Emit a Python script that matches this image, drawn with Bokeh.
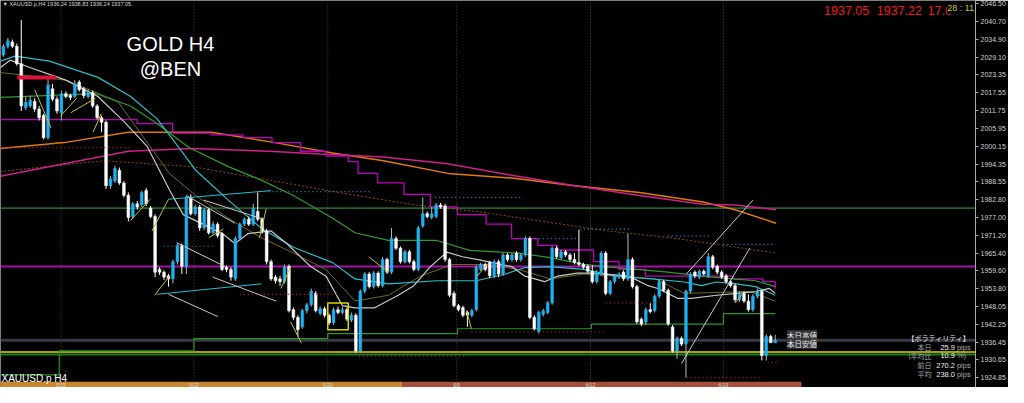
from bokeh.plotting import figure
from bokeh.models import Range1d, FixedTicker, PrintfTickFormatter, Span, Label, ColumnDataSource
from bokeh.core.properties import value
from bokeh.embed import file_html
from bokeh.resources import INLINE

# ---------------- data (XAUUSD.p H4) ----------------
opens = [2029.8, 2032.6, 2034.0, 2032.6, 2026.9, 2012.6, 2013.2, 2014.7, 2012.2, 2010.1,
         2002.9, 2018.8, 2015.4, 2011.0, 2017.2, 2016.6, 2016.3, 2021.0, 2018.8, 2016.3,
         2017.6, 2013.2, 2009.4, 2007.9, 1987.3, 1988.8, 1992.3, 1988.2, 1984.2, 1977.3,
         1981.4, 1981.0, 1985.7, 1980.0, 1977.3, 1960.1, 1959.2, 1958.0, 1957.0, 1962.6,
         1967.9, 1961.1, 1983.5, 1978.2, 1980.4, 1973.6, 1979.5, 1972.0, 1974.8, 1971.7,
         1960.8, 1960.1, 1957.0, 1970.1, 1974.8, 1976.4, 1974.8, 1978.9, 1976.4, 1972.6,
         1962.6, 1957.6, 1957.0, 1956.1, 1961.1, 1947.0, 1944.5, 1941.4, 1946.7, 1948.6,
         1952.3, 1945.8, 1947.3, 1945.2, 1942.7, 1947.0, 1946.1, 1947.0, 1943.6, 1945.2,
         1933.6, 1953.0, 1958.6, 1954.5, 1958.9, 1954.8, 1963.3, 1959.2, 1970.1, 1967.0,
         1962.6, 1965.8, 1962.6, 1960.1, 1974.2, 1978.2, 1977.0, 1977.3, 1981.0, 1980.7,
         1963.3, 1952.3, 1948.3, 1947.7, 1946.1, 1945.2, 1947.0, 1960.1, 1961.7, 1962.3,
         1958.0, 1962.6, 1958.6, 1964.8, 1963.3, 1965.4, 1963.3, 1964.8, 1970.1, 1944.5,
         1939.9, 1945.5, 1946.1, 1949.2, 1967.0, 1963.9, 1965.8, 1964.8, 1963.3, 1962.3,
         1961.7, 1961.1, 1959.5, 1956.1, 1958.6, 1965.4, 1952.3, 1956.1, 1957.6, 1959.2,
         1957.0, 1963.3, 1954.5, 1943.9, 1943.0, 1947.0, 1946.7, 1951.4, 1956.1, 1953.3,
         1941.4, 1933.6, 1937.7, 1935.8, 1953.0, 1959.2, 1957.6, 1959.5, 1958.0, 1964.2,
         1961.1, 1959.2, 1958.0, 1956.1, 1954.8, 1950.2, 1952.3, 1949.8, 1947.0, 1951.4,
         1953.0, 1932.1, 1938.3, 1936.24]
highs = [2033.3, 2035.3, 2034.8, 2033.5, 2041.2, 2016.3, 2016.6, 2015.7, 2013.2, 2010.7,
         2022.5, 2020.4, 2016.3, 2018.2, 2017.9, 2017.2, 2021.6, 2021.6, 2019.4, 2018.8,
         2018.2, 2013.8, 2010.1, 2008.5, 1990.4, 1993.8, 1993.2, 1988.8, 1985.1, 1982.0,
         1982.3, 1985.7, 1986.6, 1980.7, 1978.0, 1960.8, 1959.8, 1958.6, 1963.3, 1968.5,
         1968.5, 1984.2, 1984.5, 1981.1, 1981.1, 1980.1, 1980.1, 1975.7, 1975.4, 1972.3,
         1961.4, 1960.8, 1970.8, 1975.4, 1977.0, 1977.3, 1981.4, 1985.1, 1977.0, 1973.3,
         1963.3, 1958.3, 1958.0, 1961.7, 1961.7, 1947.7, 1945.2, 1947.3, 1949.2, 1953.9,
         1953.0, 1948.0, 1948.0, 1945.8, 1947.7, 1948.0, 1948.0, 1947.7, 1946.1, 1945.8,
         1953.6, 1959.2, 1959.2, 1959.5, 1959.5, 1964.2, 1963.9, 1973.6, 1970.8, 1967.6,
         1966.4, 1966.4, 1963.3, 1974.2, 1983.5, 1978.9, 1980.4, 1981.7, 1981.7, 1981.4,
         1963.9, 1953.0, 1948.9, 1948.3, 1946.7, 1947.3, 1961.4, 1962.3, 1962.3, 1962.9,
         1963.3, 1963.3, 1965.4, 1965.4, 1965.4, 1966.0, 1965.4, 1970.8, 1970.8, 1945.2,
         1946.7, 1947.3, 1949.8, 1967.6, 1967.6, 1966.4, 1966.4, 1965.4, 1965.4, 1973.0,
         1962.3, 1961.7, 1961.4, 1959.8, 1966.0, 1966.0, 1956.7, 1958.6, 1959.2, 1959.8,
         1971.7, 1964.0, 1955.1, 1944.5, 1947.7, 1949.2, 1952.0, 1956.7, 1956.7, 1953.9,
         1942.0, 1938.3, 1938.3, 1953.6, 1959.2, 1959.8, 1960.1, 1960.1, 1965.4, 1964.8,
         1961.7, 1959.8, 1958.6, 1956.7, 1955.5, 1953.0, 1953.0, 1952.0, 1952.0, 1953.9,
         1953.6, 1939.0, 1938.9, 1938.83]
lows = [2029.2, 2031.9, 2032.0, 2026.3, 2011.6, 2011.9, 2012.6, 2011.3, 2008.5, 2002.3,
        2002.3, 2014.7, 2010.7, 2008.5, 2015.7, 2015.1, 2015.7, 2017.9, 2015.7, 2015.7,
        2012.6, 2008.8, 2004.8, 1986.3, 1986.3, 1988.2, 1987.6, 1983.5, 1975.7, 1976.4,
        1979.5, 1980.4, 1980.7, 1976.7, 1957.6, 1958.3, 1956.7, 1954.5, 1955.5, 1961.7,
        1958.6, 1958.6, 1977.6, 1977.6, 1972.6, 1972.9, 1971.4, 1971.4, 1970.4, 1959.5,
        1959.2, 1956.4, 1956.4, 1969.5, 1974.2, 1974.2, 1974.2, 1975.7, 1971.7, 1961.7,
        1956.4, 1955.5, 1954.8, 1955.5, 1946.1, 1943.6, 1938.3, 1940.8, 1945.8, 1948.0,
        1946.1, 1945.2, 1944.5, 1942.0, 1942.0, 1945.5, 1945.5, 1943.3, 1943.0, 1933.0,
        1933.0, 1952.3, 1953.9, 1953.9, 1954.2, 1954.2, 1958.6, 1958.6, 1966.4, 1962.0,
        1962.0, 1962.0, 1959.5, 1959.5, 1973.6, 1976.7, 1976.4, 1976.7, 1979.8, 1962.6,
        1951.1, 1947.7, 1946.4, 1944.5, 1941.4, 1944.5, 1946.4, 1959.5, 1959.5, 1957.3,
        1957.3, 1957.6, 1958.0, 1962.6, 1962.6, 1962.6, 1962.6, 1964.2, 1943.9, 1940.2,
        1939.2, 1944.8, 1945.5, 1948.6, 1963.6, 1963.3, 1964.2, 1962.6, 1961.7, 1961.1,
        1960.1, 1958.9, 1955.5, 1955.5, 1958.0, 1951.7, 1951.7, 1955.5, 1957.0, 1956.4,
        1956.4, 1953.9, 1942.4, 1941.7, 1942.0, 1945.8, 1946.1, 1950.8, 1952.7, 1941.7,
        1933.0, 1931.1, 1935.2, 1924.9, 1952.3, 1957.3, 1957.0, 1958.0, 1957.3, 1960.1,
        1958.6, 1957.0, 1955.5, 1954.2, 1949.5, 1949.5, 1949.2, 1946.4, 1946.4, 1950.8,
        1930.5, 1930.5, 1936.1, 1936.24]
closes = [2032.6, 2034.4, 2032.6, 2026.9, 2013.2, 2014.4, 2015.1, 2012.2, 2009.4, 2002.9,
          2020.0, 2015.4, 2011.6, 2017.2, 2016.3, 2016.0, 2020.4, 2018.5, 2016.6, 2017.9,
          2013.2, 2009.4, 2007.9, 1987.3, 1989.5, 1992.9, 1988.2, 1984.2, 1977.0, 1981.4,
          1980.4, 1985.1, 1981.4, 1977.3, 1959.2, 1959.2, 1957.6, 1957.0, 1962.6, 1967.9,
          1961.1, 1983.5, 1978.2, 1980.4, 1973.6, 1979.5, 1972.0, 1974.8, 1971.1, 1960.1,
          1960.1, 1957.6, 1970.1, 1974.8, 1976.4, 1974.8, 1979.8, 1976.4, 1972.6, 1962.6,
          1957.0, 1956.4, 1956.1, 1960.8, 1946.7, 1944.5, 1940.5, 1946.7, 1948.6, 1953.0,
          1946.7, 1947.3, 1945.2, 1942.7, 1947.0, 1946.1, 1947.0, 1943.9, 1945.2, 1933.6,
          1953.0, 1958.6, 1954.5, 1958.9, 1954.8, 1963.3, 1959.2, 1970.1, 1967.0, 1962.6,
          1965.8, 1962.6, 1960.1, 1973.6, 1978.2, 1977.3, 1978.2, 1981.0, 1980.4, 1963.3,
          1951.7, 1948.3, 1947.0, 1945.2, 1945.2, 1946.7, 1960.8, 1961.7, 1960.1, 1958.0,
          1962.6, 1958.6, 1964.8, 1963.3, 1964.8, 1963.3, 1964.8, 1970.1, 1944.5, 1940.8,
          1946.1, 1946.7, 1949.2, 1967.0, 1964.2, 1965.8, 1964.8, 1963.3, 1962.3, 1961.7,
          1960.8, 1959.5, 1956.1, 1959.2, 1965.4, 1952.3, 1956.1, 1958.0, 1958.6, 1957.0,
          1963.3, 1954.5, 1943.0, 1942.4, 1947.0, 1946.4, 1951.4, 1956.1, 1953.3, 1942.4,
          1933.6, 1937.7, 1935.8, 1953.0, 1958.6, 1958.0, 1959.5, 1958.6, 1964.2, 1960.8,
          1959.2, 1957.6, 1956.1, 1954.8, 1950.2, 1952.3, 1949.8, 1947.0, 1951.4, 1953.0,
          1932.1, 1938.3, 1936.3, 1937.05]

# week separators (bar index) and labels
date_pos = [12.9, 42.7, 72.7, 101.6, 131.6, 161.4]
date_labels = ["5/15", "5/22", "5/29", "6/5", "6/12", "6/19"]
# month colour strip (May / June)
month_left = [-0.66, 89.5]
month_right = [89.5, 178.9]
month_colors = ["#C8862E", "#A4503A"]

# price axis ticks
y_ticks = [2046.50, 2040.70, 2034.90, 2029.10, 2023.35, 2017.55, 2011.75, 2005.95,
           2000.15, 1994.35, 1988.55, 1982.80, 1977.00, 1971.20, 1965.40, 1959.60,
           1953.80, 1948.05, 1942.25, 1936.45, 1930.65, 1924.85]

# moving averages / indicator lines (bar index, price)
cyan_x = [-0.7, 2.6, 10.3, 21.2, 28.5, 34.4, 38.8, 43.1, 50.4, 57.8, 65.0, 73.8, 78.8, 86.3,
          97.2, 106.0, 112.6, 116.9, 122.6, 130.1, 137.3, 145.4, 152.6, 156.4, 159.9, 164.3,
          168.6, 173.0]
cyan_y = [2027.8, 2029.4, 2027.8, 2022.5, 2016.3, 2009.1, 2000.7, 1992.3, 1982.6, 1973.5,
          1967.3, 1962.3, 1957.0, 1955.4, 1956.4, 1956.4, 1958.6, 1960.7, 1961.0, 1960.1,
          1957.9, 1957.0, 1956.0, 1954.8, 1956.0, 1955.4, 1954.5, 1951.7]
white_x = [-0.7, 1.5, 5.9, 14.0, 21.2, 27.2, 32.2, 37.2, 40.3, 44.7, 49.1, 51.9, 54.8, 60.0,
           63.5, 68.8, 72.3, 76.0, 78.8, 83.2, 88.5, 92.0, 95.7, 99.4, 102.9, 106.7, 113.9,
           116.9, 121.3, 124.2, 128.6, 132.3, 140.2, 144.5, 146.7, 151.1, 154.2, 159.9, 168.6,
           171.7, 173.0]
white_y = [2025.7, 2028.1, 2025.7, 2021.6, 2016.3, 2007.9, 2000.1, 1986.0, 1977.9, 1974.8,
           1971.7, 1968.5, 1971.7, 1972.6, 1968.5, 1961.1, 1957.9, 1948.3, 1947.6, 1947.6,
           1951.7, 1954.8, 1961.0, 1965.7, 1964.2, 1963.2, 1961.0, 1957.9, 1956.1, 1957.9,
           1958.9, 1958.9, 1957.9, 1954.8, 1953.9, 1950.7, 1950.7, 1951.7, 1952.9, 1953.9,
           1952.3]
green_x = [-0.7, 20.8, 28.5, 34.4, 41.6, 50.4, 57.8, 65.0, 73.8, 78.8, 86.3, 97.2, 104.5,
           115.4, 122.6, 130.1, 137.3, 148.9, 156.4, 163.6, 168.6, 173.0]
green_y = [2016.0, 2017.2, 2013.2, 2007.5, 1999.7, 1993.5, 1989.1, 1984.1, 1976.7, 1972.0,
           1969.5, 1969.5, 1966.3, 1965.4, 1963.9, 1961.7, 1960.7, 1959.2, 1957.9, 1957.0,
           1956.4, 1954.5]
orange_x = [-0.7, 13.6, 28.0, 46.6, 60.9, 73.8, 85.2, 99.6, 113.9, 128.1, 142.6, 156.8,
            164.0, 173.2]
orange_y = [1999.4, 2001.3, 2004.7, 2004.7, 2001.3, 1997.9, 1995.4, 1991.3, 1989.8, 1987.3,
            1985.1, 1982.0, 1979.5, 1975.1]
pink_x = [-0.7, 13.6, 28.0, 42.3, 59.6, 71.0, 85.2, 99.6, 113.9, 128.1, 142.6, 156.8,
          164.0, 173.2]
pink_y = [1990.4, 1994.4, 1998.5, 1999.4, 1998.5, 1997.6, 1996.6, 1994.4, 1990.7, 1987.3,
          1984.1, 1981.3, 1981.0, 1979.5]
brown_x = [-0.7, 22.3, 42.3, 59.6, 75.1, 92.4, 106.7, 120.9, 135.4, 149.6, 173.2]
brown_y = [1991.9, 1995.4, 1993.5, 1989.1, 1985.1, 1981.0, 1978.8, 1975.7, 1972.6, 1970.4,
           1965.4]
olive_x = [-0.7, 14.0, 25.6, 37.2, 43.1, 50.4, 57.8, 65.0, 72.3, 78.8, 86.3, 93.5, 100.7,
           108.2, 115.4, 122.6, 130.1, 146.1, 152.6, 167.3, 173.0]
olive_y = [2024.1, 2021.6, 2014.7, 1991.3, 1984.1, 1976.7, 1970.4, 1965.4, 1960.1, 1949.8,
           1951.7, 1957.9, 1961.7, 1961.7, 1960.1, 1957.0, 1958.6, 1957.0, 1952.3, 1952.9,
           1949.8]
mag_x = [-0.7, 30.0, 37.9, 46.6, 53.7, 60.2, 66.6, 72.3, 77.3, 79.5, 83.9, 89.8, 95.7,
         101.8, 108.2, 113.9, 119.8, 124.2, 132.3, 138.0, 143.9, 163.6, 170.2, 173.0]
mag_y = [2008.8, 2007.5, 2004.4, 2003.8, 2002.9, 2001.3, 1998.5, 1996.9, 1995.1, 1991.3,
         1988.2, 1984.5, 1980.4, 1977.9, 1974.8, 1970.1, 1967.9, 1966.4, 1962.6, 1960.1,
         1957.9, 1957.0, 1956.1, 1953.9]
sup_x = [-0.7, 12.5, 42.7, 72.7, 101.8, 131.8, 161.4, 173.0]
sup_y = [1925.8, 1933.6, 1937.6, 1939.2, 1940.8, 1942.3, 1945.7, 1945.7]

# horizontal levels
level_prices = [1980.02, 1961.05, 1937.05, 1933.28, 1932.40]
level_colors = ["#3DAA3D", "#A810A8", "#3A3A44", "#A8A000", "#1F7A1F"]
level_widths = [1, 2, 3, 2, 2]

# trend-line drawings (bar, price)
tl_x0 = [37.0, 34.4, 41.0, 38.8, 37.0, 46.9, 44.9, 152.0, 153.1]
tl_y0 = [1982.9, 1952.0, 1984.1, 1968.8, 1952.0, 1957.6, 1982.6, 1929.5, 1958.6]
tl_x1 = [60.0, 57.8, 51.9, 49.7, 48.0, 61.1, 58.5, 167.3, 168.0]
tl_y1 = [1985.7, 1955.4, 1975.1, 1961.0, 1944.8, 1949.8, 1976.3, 1967.0, 1982.6]
tl_colors = ["#20C0D0", "#20C0D0"] + ["#C8C8C8"] * 7

# yellow zigzag segments
zz_x0 = [7.0, 12.9, 15.1, 20.1, 28.5, 33.3, 33.9, 46.0, 57.4, 62.2, 64.4, 81.9, 103.8, 106.0, 164.0]
zz_y0 = [2018.5, 2010.1, 2011.0, 2004.7, 1976.0, 1972.6, 1951.7, 1970.4, 1970.4, 1953.9,
         1943.0, 1964.2, 1946.7, 1957.6, 1949.2]
zz_x1 = [10.7, 16.4, 20.6, 21.9, 32.9, 37.0, 37.2, 49.3, 58.9, 64.4, 66.8, 86.3, 104.9, 108.4, 165.8]
zz_y1 = [2006.0, 2015.7, 2015.7, 2010.7, 1982.9, 1982.9, 1957.9, 1973.2, 1979.8, 1961.0,
         1936.1, 1959.2, 1940.8, 1961.7, 1952.3]

# dotted marker lines
dot_x0 = [-0.66, 53.0, 79.7, 104.9, 120.9, 135.1, 153.1, 171.3, 58.5, 96.8, 119.1, 129.2, 148.9, 161.4, 35.9]
dot_x1 = [28.5, 75.1, 104.0, 119.1, 134.5, 146.1, 170.2, 173.5, 82.6, 116.1, 128.6, 140.2, 158.1, 173.0, 46.9]
dot_y = [1999.7, 1952.0, 1932.0, 1939.8, 1939.8, 1949.2, 1924.9, 1929.9, 1985.4, 1983.5,
         1970.1, 1973.2, 1971.0, 1968.2, 1967.6]
dot_colors = ["#C02020"] * 8 + ["#3090D0"] * 6 + ["#208080"]

# zone / box drawings
red_zone = (3.1, 11.8, 2022.5)
yellow_box = (72.7, 77.3, 1940.5, 1949.2)

# axis price tags
tag_prices = [1980.02, 1961.05, 1937.05, 1932.40, 1933.28]
tag_texts = ["1980.02", "1961.05", "1937.05", "1932.40", "1933.28"]
tag_colors = ["#33CC33", "#FF00FF", "#FFFFFF", "#88E000", "#FFFF00"]

# volatility panel
vol_labels = ["本日", "(平均比", "前日", "平均"]
vol_values = ["25.9", "10.9", "270.2", "238.0"]
vol_units = ["pips", "%)", "pips", "pips"]

bid, ask, spread = "1937.05", "1937.22", "17.0"
timer = "28 : 11"

# ---------------- figure ----------------
X0, X1 = -0.657, 217.9
Y0, Y1 = 1921.71, 2047.49


def bx(px):
    return X0 + px / 998.0 * (X1 - X0)


def py(px):
    return Y1 - px / 403.0 * (Y1 - Y0)


p = figure(width=1008, height=387, x_range=Range1d(X0, X1), y_range=Range1d(Y0, Y1),
           output_backend="svg", toolbar_location=None, x_axis_location=None,
           y_axis_location="right", background_fill_color="black",
           border_fill_color="black", outline_line_color=None,
           min_border_left=0, min_border_right=0, min_border_top=0, min_border_bottom=0)
p.xgrid.visible = False
p.ygrid.visible = False

ax = p.yaxis[0]
ax.ticker = FixedTicker(ticks=y_ticks)
ax.formatter = PrintfTickFormatter(format="%.2f")
ax.axis_line_color = "#A8A8A8"
ax.major_tick_line_color = "#A8A8A8"
ax.major_tick_out = 3
ax.major_tick_in = 0
ax.minor_tick_line_color = None
ax.major_label_text_font = "Liberation Sans"
ax.major_label_text_font_size = "7px"
ax.major_label_text_color = "#D0D0D0"
ax.major_label_standoff = 2

# month strip
p.quad(left=month_left, right=month_right, bottom=[Y0] * 2, top=[py(397)] * 2,
       fill_color=month_colors, line_color=None)

for pos in date_pos:
    p.add_layout(Span(location=pos, dimension="height", line_color="#4A4A4A",
                      line_dash="1 2", line_width=1, level="underlay"))

for lv, lc, lw in zip(level_prices, level_colors, level_widths):
    p.add_layout(Span(location=lv, dimension="width", line_color=lc, line_width=lw,
                      level="underlay"))

# indicator lines
p.line(brown_x, brown_y, line_color="#8A4A1A", line_width=1, line_dash="2 2")
p.line(olive_x, olive_y, line_color="#6E6A1E", line_width=1)
p.line(orange_x, orange_y, line_color="#E07A10", line_width=1.5)
p.line(pink_x, pink_y, line_color="#D0208A", line_width=1.5)
p.step(mag_x, mag_y, mode="after", line_color="#C000C0", line_width=1.3)
p.line(green_x, green_y, line_color="#2E9A2E", line_width=1.2)
p.line(cyan_x, cyan_y, line_color="#25C0C8", line_width=1.2)
p.line(white_x, white_y, line_color="#C8C8C8", line_width=1.2)
p.step(sup_x, sup_y, mode="after", line_color="#2A962A", line_width=1.2)

# candles
idx = list(range(len(closes)))
up = [c >= o for o, c in zip(opens, closes)]
src = ColumnDataSource(dict(
    x=idx, h=highs, l=lows,
    top=[max(o, c) for o, c in zip(opens, closes)],
    bottom=[min(o, c) for o, c in zip(opens, closes)],
    col=["#1EB2F0" if u else "#FFFFFF" for u in up],
    wick=["#B8B8B8" if u else "#FFFFFF" for u in up],
))
p.segment(x0="x", y0="l", x1="x", y1="h", line_color="wick", line_width=1, source=src)
p.vbar(x="x", width=0.62, top="top", bottom="bottom", fill_color="col", line_color="col",
       line_width=0.5, source=src)

# drawings
p.segment(x0=tl_x0, y0=tl_y0, x1=tl_x1, y1=tl_y1, line_color=tl_colors, line_width=1)
p.segment(x0=zz_x0, y0=zz_y0, x1=zz_x1, y1=zz_y1, line_color="#C8C020", line_width=1)
p.segment(x0=dot_x0, y0=dot_y, x1=dot_x1, y1=dot_y, line_color=dot_colors, line_width=1.2,
          line_dash="1 3")
p.segment(x0=[red_zone[0]], y0=[red_zone[2]], x1=[red_zone[1]], y1=[red_zone[2]],
          line_color="#DC143C", line_width=4)
p.quad(left=[yellow_box[0]], right=[yellow_box[1]], bottom=[yellow_box[2]], top=[yellow_box[3]],
       fill_color=None, line_color="#D8D800", line_width=1.5)

# week labels on the strip
p.text(x=date_pos, y=[py(400)] * len(date_pos), text=date_labels,
       text_font=value("Liberation Sans"), text_font_size="5px", text_color="#D8D8D8",
       text_align="center", text_baseline="middle")


def lab(x, y, text, size, color, align="left", font="Liberation Sans", bg=None, off=0):
    p.add_layout(Label(x=x, y=y, text=text, text_font=font, text_font_size=size,
                       text_color=color, text_align=align, text_baseline="middle",
                       background_fill_color=bg, x_offset=off))


lab(bx(174), py(45), "GOLD H4", "20px", "white", "center")
lab(bx(174), py(71), "@BEN", "20px", "white", "center")
lab(bx(2), py(4), "▼ XAUUSD.p,H4  1936.24 1938.83 1936.24 1937.05", "5.5px", "#D8D8D8")
lab(bx(1), py(394), "XAUUSD.p H4", "10px", "white")

lab(bx(843), py(10), bid, "12.5px", "#F01818")
lab(bx(897), py(10), ask, "12.5px", "#F01818")
lab(bx(949), py(10), spread, "12.5px", "#F01818")
lab(bx(969), py(8), timer, "9px", "#CDCD00", bg="black")

lab(bx(805), py(349), "本日高値", "7.5px", "#E8E8E8", font="Noto Sans CJK JP", bg="#3A3A3A")
lab(bx(805), py(357), "本日安値", "7.5px", "#E8E8E8", font="Noto Sans CJK JP", bg="#3A3A3A")

lab(bx(993), py(351), "【ボラティリティ】", "7px", "#E8E8E8", "right", font="Noto Sans CJK JP")
vol_rows = [361, 370, 380, 389]
for row, lbl, val, unit in zip(vol_rows, vol_labels, vol_values, vol_units):
    lab(bx(953), py(row), lbl, "7px", "#A8A8A8", "right", font="Noto Sans CJK JP")
    lab(bx(977), py(row), val, "7.5px", "#F0F0F0", "right")
    lab(bx(979), py(row), unit, "7.5px", "#A8A8A8", "left")

# price tags on the axis
for tp, tt, tc in zip(tag_prices, tag_texts, tag_colors):
    lab(X1, tp, tt, "7px", "black", bg=tc, off=1)

open("out.html", "w").write(file_html(p, INLINE))
